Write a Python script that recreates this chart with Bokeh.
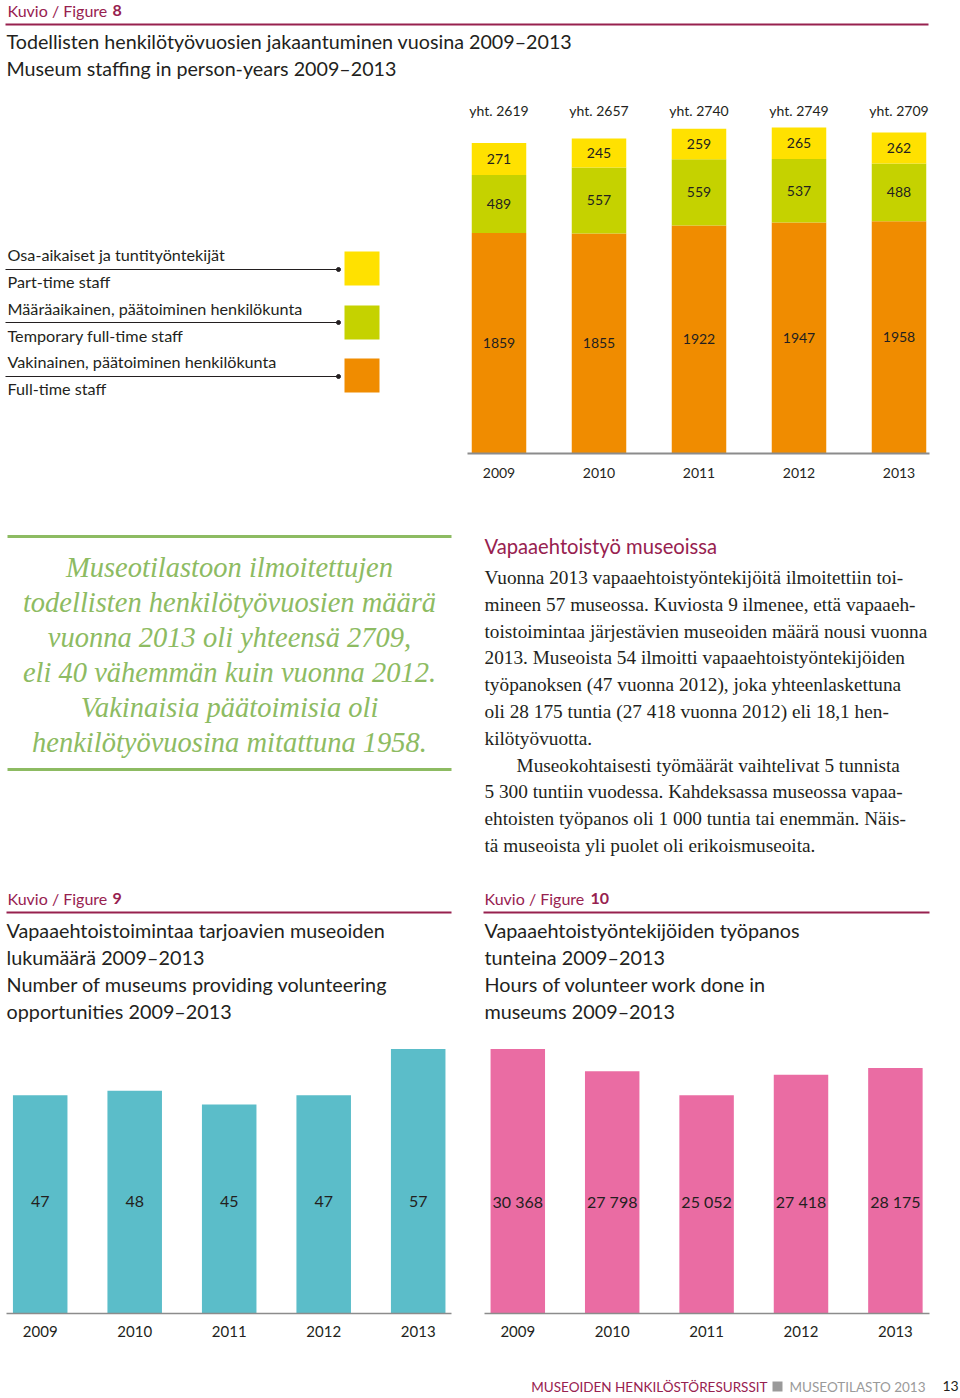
from bokeh.plotting import figure
from bokeh.models import Range1d, ColumnDataSource
from bokeh.core.properties import value
from bokeh.embed import file_html
from bokeh.resources import INLINE
import numpy as np

# ---------------- data ----------------
years = [2009, 2010, 2011, 2012, 2013]
year_labels = ["2009", "2010", "2011", "2012", "2013"]
fulltime = [1859, 1855, 1922, 1947, 1958]
temporary = [489, 557, 559, 537, 488]
parttime = [271, 245, 259, 265, 262]
totals = [2619, 2657, 2740, 2749, 2709]
museums = [47, 48, 45, 47, 57]
hours = [30368, 27798, 25052, 27418, 28175]

legend_fi = ["Osa-aikaiset ja tuntityöntekijät",
             "Määräaikainen, päätoiminen henkilökunta",
             "Vakinainen, päätoiminen henkilökunta"]
legend_en = ["Part-time staff", "Temporary full-time staff", "Full-time staff"]

quote_lines = ["Museotilastoon ilmoitettujen",
               "todellisten henkilötyövuosien määrä",
               "vuonna 2013 oli yhteensä 2709,",
               "eli 40 vähemmän kuin vuonna 2012.",
               "Vakinaisia päätoimisia oli",
               "henkilötyövuosina mitattuna 1958."]

body_lines = ["Vuonna 2013 vapaaehtoistyöntekijöitä ilmoitettiin toi-",
              "mineen 57 museossa. Kuviosta 9 ilmenee, että vapaaeh-",
              "toistoimintaa järjestävien museoiden määrä nousi vuonna",
              "2013. Museoista 54 ilmoitti vapaaehtoistyöntekijöiden",
              "työpanoksen (47 vuonna 2012), joka yhteenlaskettuna",
              "oli 28 175 tuntia (27 418 vuonna 2012) eli 18,1 hen-",
              "kilötyövuotta.",
              "Museokohtaisesti työmäärät vaihtelivat 5 tunnista",
              "5 300 tuntiin vuodessa. Kahdeksassa museossa vapaa-",
              "ehtoisten työpanos oli 1 000 tuntia tai enemmän. Näis-",
              "tä museoista yli puolet oli erikoismuseoita."]

# ---------------- styles ----------------
W, H = 960, 1398
SANS = "Lato"
SERIF = "Liberation Serif"
MAROON = "#97214f"
YELLOW = "#ffe100"
GREEN = "#c5d200"
ORANGE = "#f08c00"
TEAL = "#5bbdc9"
PINK = "#ea6ca3"
QGREEN = "#8dbb62"
DARK = "#231f20"
AXIS = "#8c8c8c"
GREY = "#9a9a9a"

p = figure(width=W, height=H, x_range=Range1d(0, W), y_range=Range1d(H, 0),
           output_backend="svg", toolbar_location=None, min_border=0,
           x_axis_location=None, y_axis_location=None)
p.grid.visible = False
p.outline_line_color = None
p.background_fill_color = "white"
p.border_fill_color = "white"


def yr(base_px, ppu):
    return Range1d(start=(base_px - H) / ppu, end=base_px / ppu)


def xr(center0, spacing):
    s = years[0] - center0 / spacing
    return Range1d(start=s, end=s + W / spacing)


p.extra_x_ranges = {"f8x": xr(498.5, 100.0), "f9x": xr(39.7, 94.5), "f10x": xr(517.3, 94.4)}
p.extra_y_ranges = {"f8y": yr(452.5, 0.11838), "f9y": yr(1312.5, 4.632), "f10y": yr(1312.5, 0.008694)}


def txt(x, y, t, size, color=DARK, font=SANS, align="left", style="normal", **kw):
    p.text(x=x, y=y, text=t, text_font=value(font), text_font_size=size,
           text_color=color, text_align=align, text_baseline="middle",
           text_font_style=style, **kw)


# ---------------- Figure 8 header ----------------
txt([7], [10], ["Kuvio / Figure"], "16px", MAROON)
txt([112], [10], ["8"], "16px", MAROON, style="bold")
p.segment(x0=[5], y0=[24], x1=[928], y1=[24], line_color=MAROON, line_width=2)
txt([6], [41], ["Todellisten henkilötyövuosien jakaantuminen vuosina 2009–2013"], "19.7px")
txt([6], [68], ["Museum staffing in person-years 2009–2013"], "19.7px")

# ---------------- Figure 8 legend ----------------
fi_y = [254, 308, 361]
en_y = [281, 335, 388]
line_y = [269, 322, 376]
txt([7] * 3, fi_y, legend_fi, "16.2px")
txt([7] * 3, en_y, legend_en, "16.2px")
p.segment(x0=[5] * 3, y0=line_y, x1=[338] * 3, y1=line_y, line_color=DARK, line_width=1.2)
p.scatter(x=[338] * 3, y=line_y, size=4, color=DARK)
p.quad(left=[344] * 3, right=[379] * 3, top=[251, 305, 358], bottom=[285, 339, 392],
       fill_color=[YELLOW, GREEN, ORANGE], line_color=None)

# ---------------- Figure 8 stacked bars ----------------
ft = np.array(fulltime, float)
tp = np.array(temporary, float)
pt = np.array(parttime, float)
src8 = ColumnDataSource(dict(
    x=years, b0=np.zeros(5), t0=ft, b1=ft, t1=ft + tp, b2=ft + tp, t2=ft + tp + pt,
    m0=ft / 2, m1=ft + tp / 2, m2=ft + tp + pt / 2,
    l0=[str(v) for v in fulltime], l1=[str(v) for v in temporary], l2=[str(v) for v in parttime]))
for b, t, c in [("b0", "t0", ORANGE), ("b1", "t1", GREEN), ("b2", "t2", YELLOW)]:
    p.vbar(x="x", bottom=b, top=t, width=0.545, color=c, line_color=None, source=src8,
           x_range_name="f8x", y_range_name="f8y")
for m, l in [("m0", "l0"), ("m1", "l1"), ("m2", "l2")]:
    p.text(x="x", y=m, text=l, source=src8, x_range_name="f8x", y_range_name="f8y",
           text_font=value(SANS), text_font_size="14px", text_color=DARK,
           text_align="center", text_baseline="middle")
p.text(x=years, y=[110] * 5, text=["yht. %d" % v for v in totals], x_range_name="f8x",
       text_font=value(SANS), text_font_size="14px", text_color=DARK,
       text_align="center", text_baseline="middle")
p.segment(x0=[467], y0=[453], x1=[929], y1=[453], line_color=AXIS, line_width=2)
p.text(x=years, y=[472] * 5, text=year_labels, x_range_name="f8x",
       text_font=value(SANS), text_font_size="14px", text_color=DARK,
       text_align="center", text_baseline="middle")

# ---------------- Quote ----------------
p.segment(x0=[7, 7], y0=[536, 769], x1=[451, 451], y1=[536, 769], line_color=QGREEN, line_width=3)
txt([229] * 6, [567 + 35 * i for i in range(6)], quote_lines, "28.5px", QGREEN, font=SERIF,
    align="center", style="italic")

# ---------------- Body text ----------------
txt([484], [545], ["Vapaaehtoistyö museoissa"], "20.2px", MAROON)
bx = [484] * len(body_lines)
bx[7] = 516
txt(bx, [577 + 26.8 * i for i in range(len(body_lines))], body_lines, "19.3px", DARK, font=SERIF)

# ---------------- Figure 9 / 10 headers ----------------
txt([7], [898], ["Kuvio / Figure"], "16px", MAROON)
txt([112], [898], ["9"], "16px", MAROON, style="bold")
txt([484], [898], ["Kuvio / Figure"], "16px", MAROON)
txt([590], [898], ["10"], "16px", MAROON, style="bold")
p.segment(x0=[6, 483], y0=[912, 912], x1=[451, 929], y1=[912, 912], line_color=MAROON, line_width=2)
t9 = ["Vapaaehtoistoimintaa tarjoavien museoiden", "lukumäärä 2009–2013",
      "Number of museums providing volunteering", "opportunities 2009–2013"]
t10 = ["Vapaaehtoistyöntekijöiden työpanos", "tunteina 2009–2013",
       "Hours of volunteer work done in", "museums 2009–2013"]
ty = [929, 956, 983, 1010]
txt([6] * 4, ty, t9, "19.8px")
txt([484] * 4, ty, t10, "19.8px")

# ---------------- Figure 9 bars ----------------
p.vbar(x=years, top=museums, bottom=0, width=0.577, color=TEAL, line_color=None,
       x_range_name="f9x", y_range_name="f9y")
p.text(x=years, y=[1201] * 5, text=[str(v) for v in museums], x_range_name="f9x",
       text_font=value(SANS), text_font_size="16px", text_color=DARK,
       text_align="center", text_baseline="middle")
p.segment(x0=[6], y0=[1313], x1=[451], y1=[1313], line_color=AXIS, line_width=1.5)
p.text(x=years, y=[1331] * 5, text=year_labels, x_range_name="f9x",
       text_font=value(SANS), text_font_size="15px", text_color=DARK,
       text_align="center", text_baseline="middle")

# ---------------- Figure 10 bars ----------------
p.vbar(x=years, top=hours, bottom=0, width=0.577, color=PINK, line_color=None,
       x_range_name="f10x", y_range_name="f10y")
p.text(x=years, y=[1201] * 5, text=[f"{v:,}".replace(",", " ") for v in hours], x_range_name="f10x",
       text_font=value(SANS), text_font_size="16px", text_color=DARK,
       text_align="center", text_baseline="middle")
p.segment(x0=[484], y0=[1313], x1=[929], y1=[1313], line_color=AXIS, line_width=1.5)
p.text(x=years, y=[1331] * 5, text=year_labels, x_range_name="f10x",
       text_font=value(SANS), text_font_size="15px", text_color=DARK,
       text_align="center", text_baseline="middle")

# ---------------- Footer ----------------
txt([767], [1386], ["MUSEOIDEN HENKILÖSTÖRESURSSIT"], "13.5px", MAROON, align="right")
p.quad(left=[772], right=[782], top=[1381], bottom=[1391], color=GREY, line_color=None)
txt([789], [1386], ["MUSEOTILASTO 2013"], "13.5px", GREY)
txt([942], [1385], ["13"], "14px", DARK)

open("out.html", "w").write(file_html(p, INLINE))
